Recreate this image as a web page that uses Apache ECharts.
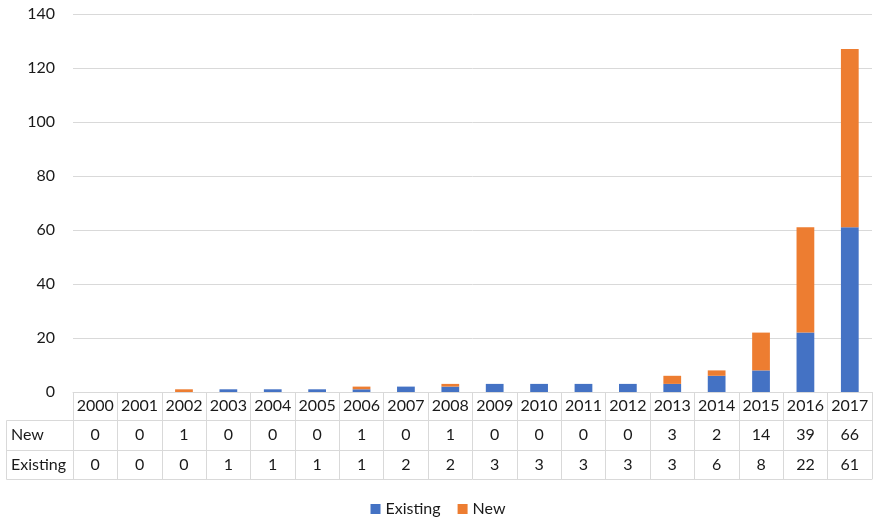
<!DOCTYPE html>
<html>
<head>
<meta charset="utf-8">
<script src="https://cdn.jsdelivr.net/npm/echarts@6/dist/echarts.min.js"></script>
<style>html,body{margin:0;padding:0;background:#fff;}#c{width:876px;height:519px;}</style>
</head>
<body>
<div id="c"></div>
<script>
const years = ['2000','2001','2002','2003','2004','2005','2006','2007','2008','2009','2010','2011','2012','2013','2014','2015','2016','2017'];
const newVals = [0,0,1,0,0,0,1,0,1,0,0,0,0,3,2,14,39,66];
const existingVals = [0,0,0,1,1,1,1,2,2,3,3,3,3,3,6,8,22,61];
const yTicks = [0,20,40,60,80,100,120,140];

const FONT = 'Lato';
const TXT = '#1a1a1a';
const LINE = '#d9d9d9';

const chart = echarts.init(document.getElementById('c'));

function tableAxis(data, offset, rowH, name, showLabel) {
  return {
    type: 'category',
    data: data,
    position: 'bottom',
    offset: offset,
    boundaryGap: true,
    axisLine: { show: true, lineStyle: { color: LINE, width: 1 } },
    axisTick: { show: rowH > 0, interval: 0, length: rowH, inside: false, lineStyle: { color: LINE, width: 1 } },
    axisLabel: {
      show: showLabel, interval: 0, margin: rowH / 2, verticalAlign: 'middle',
      fontFamily: FONT, fontSize: 16, color: TXT
    },
    name: name,
    nameLocation: 'start',
    nameGap: 62,
    nameTextStyle: { fontFamily: FONT, fontSize: 16, color: TXT, align: 'left', verticalAlign: 'top', lineHeight: rowH },
    splitLine: { show: false }
  };
}

chart.setOption({
  animation: false,
  textStyle: { fontFamily: FONT },
  grid: { left: 73, right: 4, top: 14, bottom: 127, containLabel: false },
  legend: {
    data: ['Existing', 'New'],
    bottom: -3,
    left: 'center',
    itemWidth: 10, itemHeight: 10, itemGap: 17,
    icon: 'rect',
    textStyle: { fontFamily: FONT, fontSize: 16, color: TXT }
  },
  xAxis: [
    tableAxis(years, 0, 28, '', true),
    tableAxis(newVals.map(String), 28, 30, 'New', true),
    tableAxis(existingVals.map(String), 58, 29, 'Existing', true),
    tableAxis(years.map(() => ''), 87, 0, '', false)
  ],
  yAxis: {
    type: 'value',
    min: yTicks[0], max: yTicks[yTicks.length - 1], interval: 20,
    axisLine: { show: false }, axisTick: { show: false },
    axisLabel: { margin: 18, fontFamily: FONT, fontSize: 16, color: TXT },
    splitLine: { lineStyle: { color: LINE, width: 1 } }
  },
  series: [
    { name: 'Existing', type: 'bar', stack: 'total', xAxisIndex: 0, data: existingVals, barCategoryGap: '60%', itemStyle: { color: '#4472C4' } },
    { name: 'New', type: 'bar', stack: 'total', xAxisIndex: 0, data: newVals, barCategoryGap: '60%', itemStyle: { color: '#ED7D31' } }
  ],
  graphic: [
    { type: 'polyline', silent: true, shape: { points: [[73, 420.5], [6.5, 420.5], [6.5, 479.5], [73, 479.5]] }, style: { stroke: LINE, fill: null, lineWidth: 1 } },
    { type: 'line', silent: true, shape: { x1: 6.5, y1: 450.5, x2: 73, y2: 450.5 }, style: { stroke: LINE, lineWidth: 1 } },
    { type: 'line', silent: true, shape: { x1: 73.5, y1: 392, x2: 73.5, y2: 480 }, style: { stroke: LINE, lineWidth: 1 } }
  ]
});
</script>
</body>
</html>
